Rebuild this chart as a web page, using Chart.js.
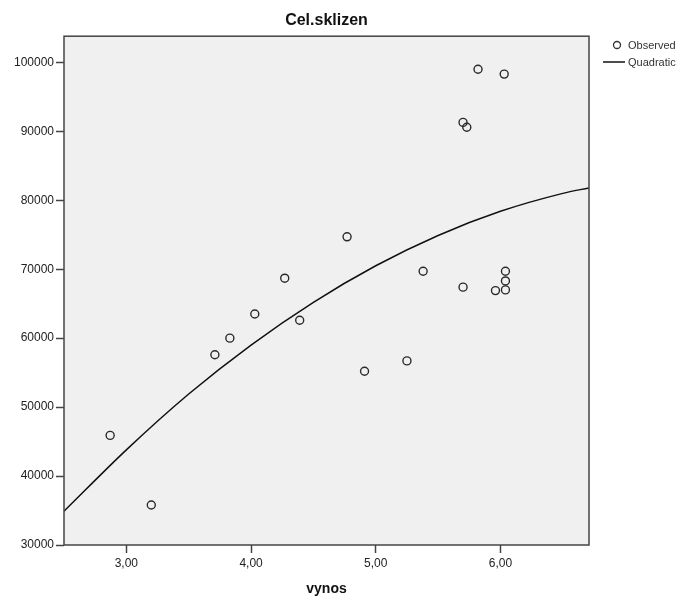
<!DOCTYPE html>
<html>
<head>
<meta charset="utf-8">
<title>Cel.sklizen</title>
<script src="https://cdn.jsdelivr.net/npm/chart.js@4/dist/chart.umd.min.js"></script>
<style>
  html, body { margin: 0; padding: 0; background: #fff; }
  #wrap { width: 694px; height: 600px; }
</style>
</head>
<body>
<div id="wrap"><canvas id="chart" width="694" height="600"></canvas></div>
<script>
const vynos = [2.87, 3.20, 3.71, 3.83, 4.03, 4.27, 4.39, 4.77, 4.91, 5.25,
               5.38, 5.70, 5.70, 5.73, 5.82, 5.96, 6.03, 6.04, 6.04, 6.04];
const celSklizen = [45900, 35800, 57600, 60000, 63500, 68700, 62600, 74700, 55200, 56700,
                    69700, 67400, 91300, 90600, 99000, 66900, 98300, 69700, 68300, 67000];

// quadratic fit line
const fitX = [2.5, 3, 3.5, 4, 4.5, 5, 5.5, 6, 6.5, 6.71];
const fitY = [34900, 43800, 51900, 59000, 65200, 70500, 74900, 78400, 81000, 81800];

const xTicks = [3, 4, 5, 6];
const yTicks = [30000, 40000, 50000, 60000, 70000, 80000, 90000, 100000];

const fontFamily = '"Liberation Sans", Arial, sans-serif';
const axisColor = '#444';

// grey plot background + frame
const plotFrame = {
    id: 'plotFrame',
    beforeDraw(chart) {
        const { ctx, chartArea: a } = chart;
        ctx.save();
        ctx.fillStyle = '#f0f0f0';
        ctx.fillRect(a.left, a.top, a.right - a.left, a.bottom - a.top);
        ctx.restore();
    },
    afterDatasetsDraw(chart) {
        const { ctx, chartArea: a } = chart;
        ctx.save();
        ctx.strokeStyle = axisColor;
        ctx.lineWidth = 1.5;
        ctx.strokeRect(a.left, a.top, a.right - a.left, a.bottom - a.top);
        ctx.restore();
    }
};

// SPSS style legend to the right of the plot
const sideLegend = {
    id: 'sideLegend',
    afterDraw(chart) {
        const { ctx, chartArea: a } = chart;
        const ds = chart.data.datasets;
        const x0 = a.right + 14;
        ctx.save();
        ctx.font = '11px ' + fontFamily;
        ctx.fillStyle = '#333';
        ctx.textBaseline = 'middle';

        // Observed
        ctx.beginPath();
        ctx.arc(x0 + 14, 45, 3.5, 0, Math.PI * 2);
        ctx.strokeStyle = '#333';
        ctx.lineWidth = 1.3;
        ctx.stroke();
        ctx.fillText(ds[0].label, x0 + 25, 46);

        // Quadratic
        ctx.beginPath();
        ctx.moveTo(x0, 62);
        ctx.lineTo(x0 + 22, 62);
        ctx.strokeStyle = '#111';
        ctx.lineWidth = 1.5;
        ctx.stroke();
        ctx.fillText(ds[1].label, x0 + 25, 63);
        ctx.restore();
    }
};

const observed = vynos.map((v, i) => ({ x: v, y: celSklizen[i] }));
const fitted = fitX.map((v, i) => ({ x: v, y: fitY[i] }));

new Chart(document.getElementById('chart'), {
    type: 'scatter',
    data: {
        datasets: [{
            label: 'Observed',
            data: observed,
            pointRadius: 4,
            pointHoverRadius: 4,
            borderWidth: 1.4,
            borderColor: '#2a2a2a',
            backgroundColor: 'rgba(0,0,0,0)',
            order: 1
        }, {
            label: 'Quadratic',
            type: 'line',
            data: fitted,
            showLine: true,
            pointRadius: 0,
            borderWidth: 1.5,
            borderColor: '#111',
            cubicInterpolationMode: 'monotone',
            fill: false,
            order: 2
        }]
    },
    options: {
        responsive: false,
        animation: false,
        layout: { padding: { left: 0, right: 105, top: 0, bottom: 0 } },
        plugins: {
            legend: { display: false },
            tooltip: { enabled: false },
            title: {
                display: true,
                text: 'Cel.sklizen',
                fullSize: false,
                color: '#111',
                font: { family: fontFamily, size: 16, weight: 'bold' },
                padding: { top: 11, bottom: 6 }
            }
        },
        scales: {
            x: {
                type: 'linear',
                min: 2.5,
                max: 6.71,
                afterBuildTicks: (scale) => { scale.ticks = xTicks.map(v => ({ value: v })); },
                afterFit: (scale) => { scale.height = 55; },
                border: { display: false },
                grid: { drawOnChartArea: false, drawTicks: true, tickLength: 8, tickColor: axisColor, tickWidth: 1.5 },
                ticks: {
                    color: '#222',
                    padding: 3,
                    font: { family: fontFamily, size: 12 },
                    callback: (v) => Number(v).toFixed(2).replace('.', ',')
                },
                title: {
                    display: true,
                    text: 'vynos',
                    color: '#111',
                    font: { family: fontFamily, size: 14, weight: 'bold' },
                    padding: { top: 0, bottom: 2 }
                }
            },
            y: {
                type: 'linear',
                min: 30000,
                max: 103800,
                afterBuildTicks: (scale) => { scale.ticks = yTicks.map(v => ({ value: v })); },
                afterFit: (scale) => { scale.width = 64; },
                border: { display: false },
                grid: { drawOnChartArea: false, drawTicks: true, tickLength: 8, tickColor: axisColor, tickWidth: 1.5 },
                ticks: {
                    color: '#222',
                    padding: 2,
                    font: { family: fontFamily, size: 12 },
                    callback: (v) => String(v)
                }
            }
        }
    },
    plugins: [plotFrame, sideLegend]
});
</script>
</body>
</html>
